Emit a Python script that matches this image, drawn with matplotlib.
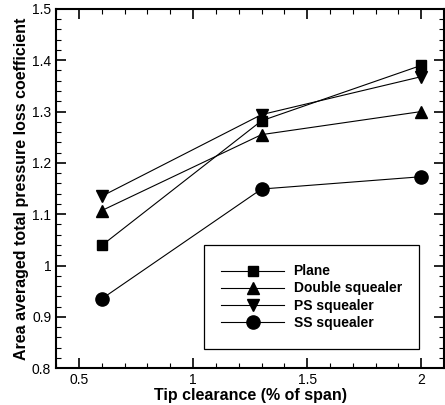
import matplotlib
matplotlib.use("Agg")
import matplotlib.pyplot as plt
from matplotlib.patches import Rectangle
from matplotlib.ticker import MultipleLocator

plt.rcParams['font.family'] = ['Liberation Sans', 'DejaVu Sans']

clearance = [0.6, 1.3, 2.0]
plane = [1.039, 1.282, 1.390]
double_squealer = [1.107, 1.255, 1.300]
ps_squealer = [1.135, 1.294, 1.368]
ss_squealer = [0.935, 1.149, 1.173]
labels = ["Plane", "Double squealer", "PS squealer", "SS squealer"]

fig = plt.figure(figsize=(4.45, 4.05), dpi=100)
ax = fig.add_axes([0.126, 0.091, 0.872, 0.887])

lw = 0.8
ax.plot(clearance, plane, '-', color='black', lw=lw, marker='s', ms=6.5, label=labels[0])
ax.plot(clearance, double_squealer, '-', color='black', lw=lw, marker='^', ms=8, label=labels[1])
ax.plot(clearance, ps_squealer, '-', color='black', lw=lw, marker='v', ms=8, label=labels[2])
ax.plot(clearance, ss_squealer, '-', color='black', lw=lw, marker='o', ms=9.5, label=labels[3])

ax.set_xlim(0.4, 2.1)
ax.set_ylim(0.8, 1.5)
ax.xaxis.set_major_locator(MultipleLocator(0.5))
ax.xaxis.set_minor_locator(MultipleLocator(0.1))
ax.yaxis.set_major_locator(MultipleLocator(0.1))
ax.yaxis.set_minor_locator(MultipleLocator(0.02))
ax.set_xticks([0.5, 1.0, 1.5, 2.0])
ax.set_xticklabels(['0.5', '1', '1.5', '2'])
ax.set_yticks([0.8, 0.9, 1.0, 1.1, 1.2, 1.3, 1.4, 1.5])
ax.set_yticklabels(['0.8', '0.9', '1', '1.1', '1.2', '1.3', '1.4', '1.5'])
ax.tick_params(which='both', direction='in', top=True, right=True, labelsize=10, width=1.2)
ax.tick_params(which='major', length=7)
ax.tick_params(which='minor', length=3.5, width=0.8)
for s in ax.spines.values():
    s.set_linewidth(1.5)

ax.set_xlabel('Tip clearance (% of span)', fontsize=11.5, fontweight='bold', labelpad=1)
ax.set_ylabel('Area averaged total pressure loss coefficient', fontsize=11.5, fontweight='bold', labelpad=2)

ax.add_patch(Rectangle((0.381, 0.053), 0.555, 0.290, transform=ax.transAxes,
                       fill=False, edgecolor='black', lw=0.9, zorder=5))
leg = ax.legend(loc='center', bbox_to_anchor=(0.6585, 0.198), frameon=False,
                prop={'weight': 'bold', 'size': 10}, handlelength=4.5,
                handletextpad=0.7, labelspacing=0.22, borderaxespad=0)

fig.savefig('out.png', dpi=100)
